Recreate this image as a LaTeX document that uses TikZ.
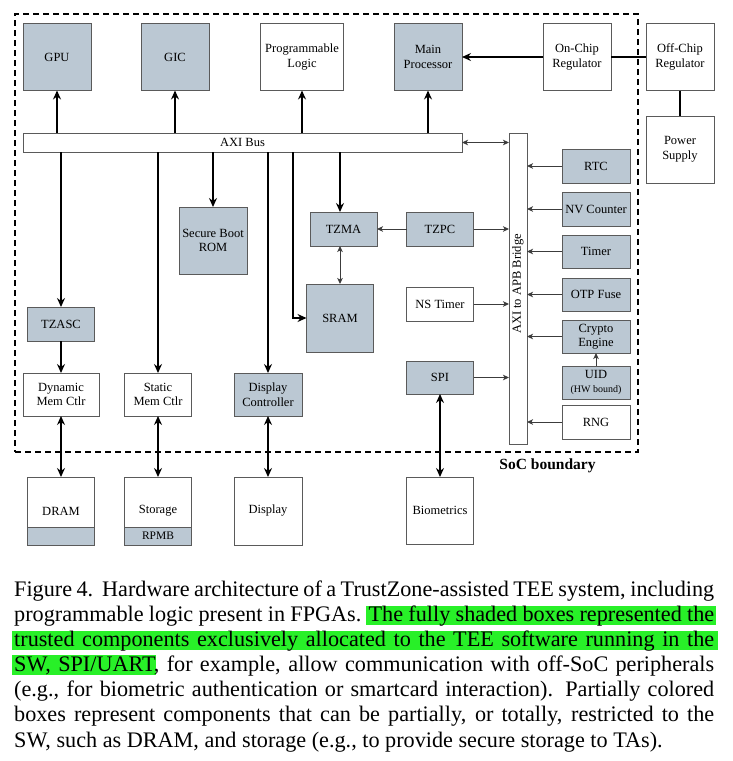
\documentclass[tikz,border=0pt]{standalone}
\usepackage{fontspec}
\setmainfont{Liberation Serif}
\usetikzlibrary{arrows.meta}
\definecolor{shade}{RGB}{187,200,211}
\definecolor{bord}{RGB}{90,90,90}
\definecolor{thinc}{RGB}{60,60,60}
\definecolor{hlgreen}{RGB}{40,240,40}
\begin{document}
\begin{tikzpicture}[x=1pt,y=-1pt,
  lbl/.style={font=\fontsize{12.5}{14.5}\selectfont},
  box/.style={draw=bord, line width=0.8pt, inner sep=1pt, outer sep=0pt, align=center, lbl, minimum width=68pt, minimum height=67pt},
  wbox/.style={box, fill=white},
  sbox/.style={box, fill=shade},
  short/.style={minimum height=34pt},
  thk/.style={line width=2pt, -{Stealth[length=9pt,width=8pt,inset=3pt]}},
  thkboth/.style={line width=2pt, {Stealth[length=9pt,width=8pt,inset=3pt]}-{Stealth[length=9pt,width=8pt,inset=3pt]}},
  thkline/.style={line width=2pt},
  thn/.style={line width=1pt, draw=thinc, -{Stealth[length=6pt,width=5.5pt,inset=1.5pt]}},
  thnboth/.style={line width=1pt, draw=thinc, {Stealth[length=6pt,width=5.5pt,inset=1.5pt]}-{Stealth[length=6pt,width=5.5pt,inset=1.5pt]}},
  capt/.style={anchor=base west, inner sep=0pt, font=\fontsize{22.2}{25}\selectfont},
  hl/.style={fill=hlgreen}
]
\useasboundingbox (0,0) rectangle (732,761);

% SoC boundary
\node[draw=black, line width=1.3pt, dash pattern=on 6pt off 4pt, minimum width=623pt, minimum height=438pt, inner sep=0pt] (soc) at (326.5,233) {};
\node[anchor=base, font=\bfseries\fontsize{15.5}{18}\selectfont] (soclbl) at (547.5,469.5) {SoC boundary};

% top row
\node[sbox] (gpu) at (57,57) {GPU};
\node[sbox] (gic) at (175,57) {GIC};
\node[wbox, minimum width=83pt] (pl) at (302,57) {Programmable\\Logic};
\node[sbox] (main) at (428,57) {Main\\Processor};
\node[wbox] (onchip) at (577,57) {On-Chip\\Regulator};
\node[wbox] (offchip) at (680,57) {Off-Chip\\Regulator};
\node[wbox] (power) at (680,149.5) {Power\\Supply};

% buses
\node[wbox, minimum width=439pt, minimum height=19pt, inner sep=0pt] (bus) at (242.5,142.5) {AXI Bus};
\node[draw=bord, line width=0.8pt, fill=white, minimum width=18pt, minimum height=311pt, inner sep=0pt, outer sep=0pt] (bridge) at (518,288.5) {};
\node[rotate=90, lbl, inner sep=0pt] (bridgelbl) at (518,284) {AXI to APB Bridge};

% APB peripherals
\node[sbox, short] (rtc) at (596,166) {RTC};
\node[sbox, short] (nv) at (596,209) {NV Counter};
\node[sbox, short, minimum height=33pt] (timer) at (596,251.5) {Timer};
\node[sbox, short, minimum height=33pt] (otp) at (596,294.5) {OTP Fuse};
\node[sbox, short, minimum height=33pt, font=\fontsize{12.5}{14}\selectfont] (crypto) at (596,336.5) {Crypto\\Engine};
\node[sbox, short, minimum height=33pt, font=\fontsize{12.5}{15}\selectfont] (uid) at (596,382.5) {UID\\[-1pt]{\fontsize{10}{11}\selectfont (HW bound)}};
\node[wbox, short] (rng) at (596,422) {RNG};

% middle
\node[sbox, short, minimum width=67pt] (tzpc) at (440,229) {TZPC};
\node[sbox, short, minimum width=67pt] (tzma) at (343.5,229) {TZMA};
\node[sbox] (sbrom) at (213,240.5) {Secure Boot\\ROM};
\node[sbox, minimum width=67pt, minimum height=68pt] (sram) at (340,318) {SRAM};
\node[wbox, short, minimum width=67pt] (nstimer) at (440,304) {NS Timer};
\node[sbox, short, minimum width=67pt, minimum height=33pt] (spi) at (440,377.5) {SPI};
\node[wbox, minimum width=67pt] (bio) at (440,510.5) {Biometrics};

% left column
\node[sbox, short, minimum width=67pt] (tzasc) at (61,324) {TZASC};
\node[wbox, minimum width=76pt, minimum height=43pt] (dyn) at (61,394.5) {Dynamic\\Mem Ctlr};
\node[wbox, minimum width=67pt, minimum height=43pt] (stat) at (158,394.5) {Static\\Mem Ctlr};
\node[sbox, minimum width=68pt, minimum height=43pt] (dispc) at (268,394.5) {Display\\Controller};

% off-chip
\node[wbox, minimum width=67pt, minimum height=68pt] (dram) at (61,511) {DRAM};
\draw[draw=bord, line width=0.8pt, fill=shade] (dram.south west) rectangle ([yshift=18pt]dram.south east);
\node[wbox, minimum width=67pt, minimum height=68pt] (stor) at (158,511) {Storage};
\draw[draw=bord, line width=0.8pt, fill=shade] (stor.south west) rectangle ([yshift=18pt]stor.south east);
\node[lbl, font=\fontsize{11.5}{13}\selectfont, inner sep=0pt] (rpmb) at ([yshift=9pt]stor.south) {RPMB};
\node[wbox, minimum width=68pt, minimum height=68pt] (disp) at (268,511) {Display};

% thick connectors up
\draw[thk] (gpu |- bus.north) -- (gpu.south);
\draw[thk] (gic |- bus.north) -- (gic.south);
\draw[thk] (pl |- bus.north) -- (pl.south);
\draw[thk] (main |- bus.north) -- (main.south);
\draw[thk] (onchip.west) -- (main.east);
\draw[thkline] (onchip.east) -- (offchip.west);
\draw[thkline] (offchip.south) -- (power.north);

% thick connectors down
\draw[thk] (tzasc |- bus.south) -- (tzasc.north);
\draw[thk] (tzasc.south) -- (tzasc |- dyn.north);
\draw[thk] (stat |- bus.south) -- (stat.north);
\draw[thk] (sbrom |- bus.south) -- (sbrom.north);
\draw[thk] (dispc |- bus.south) -- (dispc.north);
\draw[thk] ([xshift=-47pt]sram.center |- bus.south) |- (sram.west);
\draw[thk] (sram |- bus.south) -- (sram |- tzma.north);
\draw[thnboth] (sram |- tzma.south) -- (sram.north);

% thick double arrows
\draw[thkboth] (dyn.south) -- (dyn |- dram.north);
\draw[thkboth] (stat.south) -- (stor.north);
\draw[thkboth] (dispc.south) -- (disp.north);
\draw[thkboth] (spi.south) -- (bio.north);

% thin connectors
\draw[thnboth] (bus.east) -- (bridge.west |- bus.east);
\draw[thn] (tzpc.west) -- (tzma.east);
\draw[thn] (tzpc.east) -- (bridge.west |- tzpc.east);
\draw[thn] (nstimer.east) -- (bridge.west |- nstimer.east);
\draw[thn] (spi.east) -- (bridge.west |- spi.east);
\draw[thn] (rtc.west) -- (bridge.east |- rtc.west);
\draw[thn] (nv.west) -- (bridge.east |- nv.west);
\draw[thn] (timer.west) -- (bridge.east |- timer.west);
\draw[thn] (otp.west) -- (bridge.east |- otp.west);
\draw[thn] (crypto.west) -- (bridge.east |- crypto.west);
\draw[thn] (rng.west) -- (bridge.east |- rng.west);
\draw[thn] (uid.north) -- (crypto.south);

% caption
\fill[hl] (366,606) rectangle (716,625);
\fill[hl] (12,631) rectangle (718,650);
\fill[hl] (12,655) rectangle (156,675);
\node[capt] (c1) at (14,596) {\hbox to 700pt{Figure 4.\ \ Hardware architecture of a TrustZone-assisted TEE system, including}};
\node[capt] (c2) at (14,621.2) {\hbox to 700pt{programmable logic present in FPGAs. The fully shaded boxes represented the}};
\node[capt] (c3) at (14,646.3) {\hbox to 700pt{trusted components exclusively allocated to the TEE software running in the}};
\node[capt] (c4) at (14,671.5) {\hbox to 700pt{SW, SPI/UART, for example, allow communication with off-SoC peripherals}};
\node[capt] (c5) at (14,696.7) {\hbox to 700pt{(e.g., for biometric authentication or smartcard interaction). Partially colored}};
\node[capt] (c6) at (14,721.8) {\hbox to 700pt{boxes represent components that can be partially, or totally, restricted to the}};
\node[capt] (c7) at (14,747) {SW, such as DRAM, and storage (e.g., to provide secure storage to TAs).};
\end{tikzpicture}
\end{document}
